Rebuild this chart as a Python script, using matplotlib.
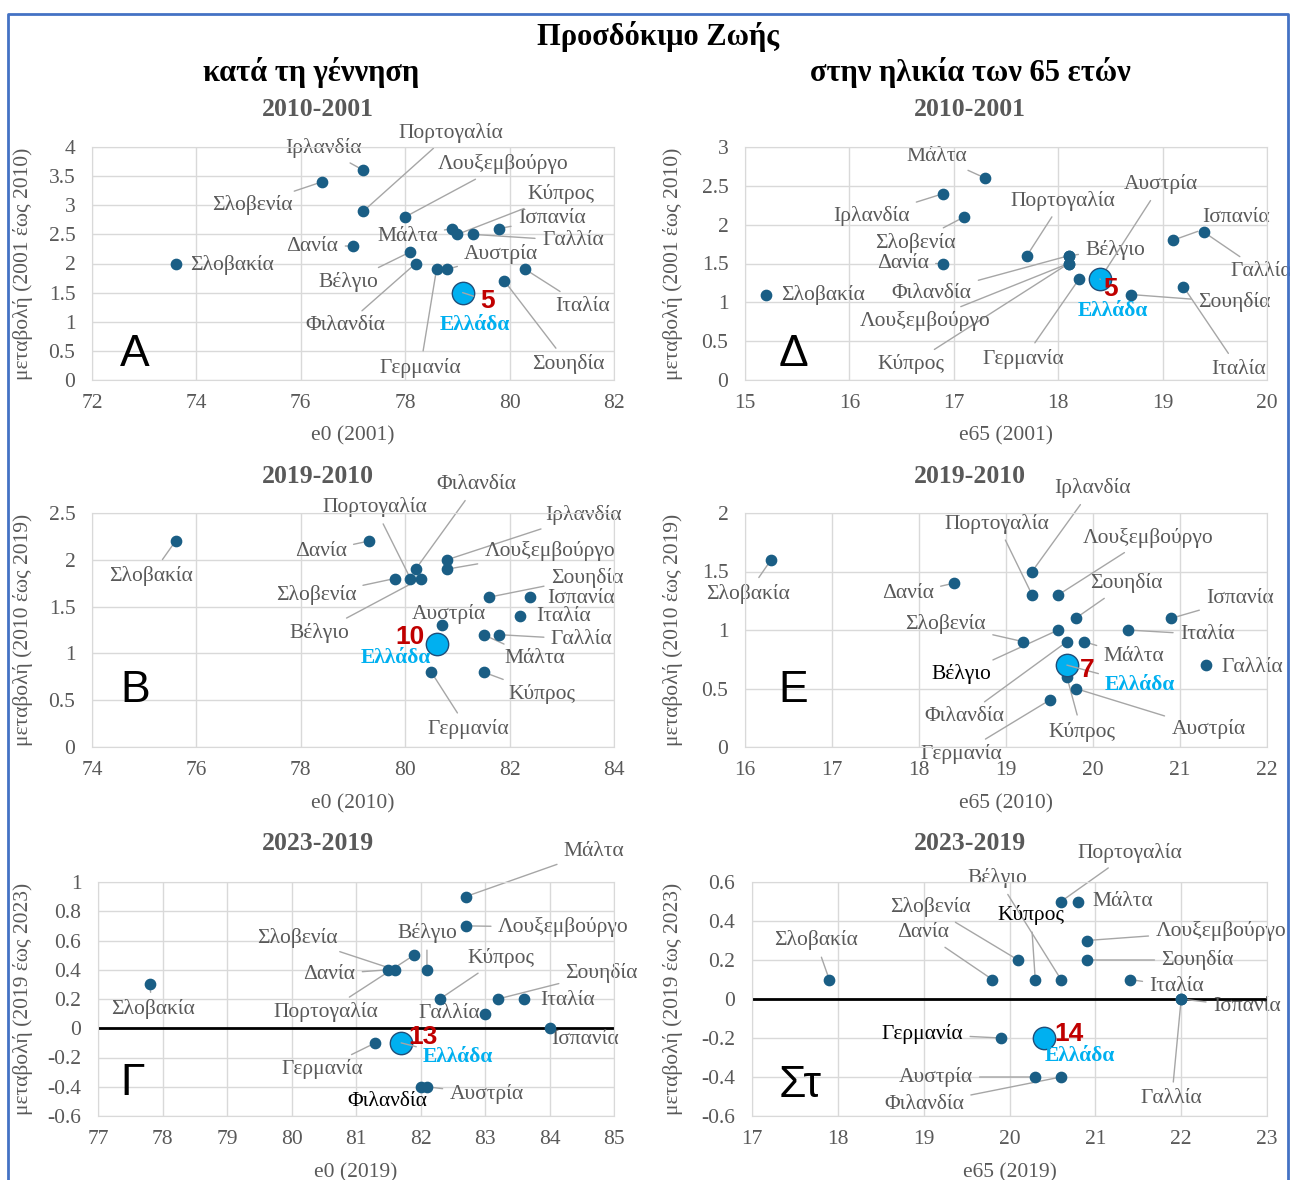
import numpy as np
import matplotlib.pyplot as plt
from matplotlib.lines import Line2D

plt.rcParams['font.family'] = ['Liberation Serif', 'DejaVu Serif']

# ---- data ----
countries = ['Βέλγιο', 'Δανία', 'Γερμανία', 'Ιρλανδία', 'Ισπανία', 'Γαλλία', 'Ιταλία', 'Κύπρος',
             'Λουξεμβούργο', 'Μάλτα', 'Αυστρία', 'Πορτογαλία', 'Σλοβενία', 'Σλοβακία', 'Φιλανδία', 'Σουηδία']

e0_2001 = [78.1, 77.0, 78.6, 77.2, 79.8, 79.3, 80.3, 79.0, 78.0, 78.9, 78.8, 77.2, 76.4, 73.6, 78.2, 79.9]
d0_2001_2010 = [2.2, 2.3, 1.9, 3.6, 2.6, 2.5, 1.9, 2.5, 2.8, 2.6, 1.9, 2.9, 3.4, 2.0, 2.0, 1.7]
e65_2001 = [18.1, 16.9, 18.2, 16.9, 19.1, 19.4, 19.2, 18.1, 18.1, 17.3, 18.4, 17.7, 17.1, 15.2, 18.1, 18.7]
d65_2001_2010 = [1.6, 1.5, 1.3, 2.4, 1.8, 1.9, 1.2, 1.5, 1.5, 2.6, 1.3, 1.6, 2.1, 1.1, 1.6, 1.1]

e0_2010 = [80.3, 79.3, 80.5, 80.8, 82.4, 81.8, 82.2, 81.5, 80.8, 81.5, 80.7, 80.1, 79.8, 75.6, 80.2, 81.6]
d0_2010_2019 = [1.8, 2.2, 0.8, 2.0, 1.6, 1.2, 1.4, 0.8, 1.9, 1.2, 1.3, 1.8, 1.8, 2.2, 1.9, 1.6]
e65_2010 = [19.6, 18.4, 19.5, 19.3, 20.9, 21.3, 20.4, 19.7, 19.6, 19.9, 19.8, 19.3, 19.2, 16.3, 19.7, 19.8]
d65_2010_2019 = [1.0, 1.4, 0.4, 1.5, 1.1, 0.7, 1.0, 0.6, 1.3, 0.9, 0.5, 1.3, 0.9, 1.6, 0.9, 1.1]

e0_2019 = [82.1, 81.5, 81.3, np.nan, 84.0, 83.0, 83.6, 82.3, 82.7, 82.7, 82.1, 81.9, 81.6, 77.8, 82.0, 83.2]
d0_2019_2023 = [0.4, 0.4, -0.1, np.nan, 0.0, 0.1, 0.2, 0.2, 0.7, 0.9, -0.4, 0.5, 0.4, 0.3, -0.4, 0.2]
e65_2019 = [20.6, 19.8, 19.9, np.nan, 22.0, 22.0, 21.4, 20.3, 20.9, 20.8, 20.3, 20.6, 20.1, 17.9, 20.6, 20.9]
d65_2019_2023 = [0.1, 0.1, -0.2, np.nan, 0.0, 0.0, 0.1, 0.1, 0.3, 0.5, -0.4, 0.5, 0.2, 0.1, -0.4, 0.2]

greece_e0 = [79.1, 80.6, 81.7]
greece_d0 = [1.5, 1.1, -0.1]
greece_e65 = [18.4, 19.7, 20.4]
greece_d65 = [1.3, 0.7, -0.2]
greece_rank_e0 = [5, 10, 13]
greece_rank_e65 = [5, 7, 14]

GRAY = '#595959'
DOT = '#1A5E85'
LEAD = '#A6A6A6'

# ---- label placement (text positions in data units, ha, leader line) ----
lab_A = {
    'Πορτογαλία': (77.87, 4.245, 'left', True), 'Ιρλανδία': (76.43, 3.98, 'center', True),
    'Λουξεμβούργο': (78.62, 3.70, 'left', True), 'Κύπρος': (80.34, 3.19, 'left', True),
    'Ισπανία': (80.16, 2.77, 'left', True), 'Γαλλία': (80.62, 2.39, 'left', True),
    'Μάλτα': (78.62, 2.46, 'right', True), 'Σλοβενία': (75.84, 3.0, 'right', True),
    'Δανία': (76.72, 2.3, 'right', True), 'Σλοβακία': (73.88, 1.97, 'left', False),
    'Αυστρία': (79.13, 2.16, 'left', True), 'Βέλγιο': (77.49, 1.68, 'right', True),
    'Ιταλία': (80.88, 1.27, 'left', True), 'Φιλανδία': (77.61, 0.93, 'right', True),
    'Γερμανία': (78.29, 0.21, 'center', True), 'Σουηδία': (80.43, 0.27, 'left', True)}
lab_D = {
    'Μάλτα': (17.13, 2.88, 'right', True), 'Ιρλανδία': (16.58, 2.11, 'right', True),
    'Σλοβενία': (16.63, 1.77, 'center', True), 'Δανία': (16.76, 1.5, 'right', True),
    'Σλοβακία': (15.35, 1.10, 'left', False), 'Πορτογαλία': (18.04, 2.31, 'center', True),
    'Αυστρία': (18.63, 2.52, 'left', True), 'Ισπανία': (19.38, 2.09, 'left', True),
    'Βέλγιο': (18.26, 1.68, 'left', True), 'Γαλλία': (19.65, 1.40, 'left', True),
    'Φιλανδία': (17.17, 1.12, 'right', True), 'Σουηδία': (19.34, 1.0, 'left', True),
    'Λουξεμβούργο': (17.35, 0.76, 'right', True), 'Κύπρος': (16.91, 0.2, 'right', True),
    'Γερμανία': (18.06, 0.27, 'right', True), 'Ιταλία': (19.47, 0.14, 'left', True)}
lab_B = {
    'Σλοβακία': (75.13, 1.83, 'center', True), 'Δανία': (78.88, 2.09, 'right', True),
    'Πορτογαλία': (79.42, 2.56, 'center', True), 'Φιλανδία': (80.6, 2.8, 'left', True),
    'Ιρλανδία': (82.69, 2.48, 'left', True), 'Λουξεμβούργο': (81.52, 2.09, 'left', True),
    'Σουηδία': (82.79, 1.81, 'left', True), 'Σλοβενία': (79.06, 1.62, 'right', True),
    'Ισπανία': (82.72, 1.59, 'left', False), 'Ιταλία': (82.51, 1.39, 'left', False),
    'Αυστρία': (80.84, 1.42, 'center', False), 'Βέλγιο': (78.92, 1.22, 'right', True),
    'Γαλλία': (82.79, 1.15, 'left', True), 'Μάλτα': (81.9, 0.95, 'left', True),
    'Κύπρος': (81.97, 0.57, 'left', True), 'Γερμανία': (81.2, 0.19, 'center', True)}
lab_E = {
    'Σλοβακία': (16.03, 1.31, 'center', True), 'Ιρλανδία': (19.55, 2.21, 'left', True),
    'Πορτογαλία': (18.9, 1.91, 'center', True), 'Λουξεμβούργο': (19.88, 1.79, 'left', True),
    'Δανία': (18.17, 1.31, 'right', True), 'Σουηδία': (20.38, 1.40, 'center', True),
    'Ισπανία': (21.3, 1.27, 'left', True), 'Ιταλία': (21.0, 0.96, 'left', True),
    'Σλοβενία': (18.77, 1.05, 'right', True), 'Μάλτα': (20.12, 0.77, 'left', True),
    'Γαλλία': (21.48, 0.68, 'left', False), 'Βέλγιο': (18.83, 0.62, 'right', True, 'black'),
    'Φιλανδία': (18.98, 0.26, 'right', True), 'Κύπρος': (19.87, 0.13, 'center', True),
    'Αυστρία': (20.9, 0.15, 'left', True), 'Γερμανία': (18.95, -0.06, 'right', True)}
lab_G = {
    'Μάλτα': (84.22, 1.21, 'left', True), 'Λουξεμβούργο': (83.2, 0.69, 'left', True),
    'Σλοβενία': (80.71, 0.62, 'right', True), 'Βέλγιο': (82.1, 0.65, 'center', True),
    'Κύπρος': (82.72, 0.48, 'left', True), 'Σουηδία': (84.25, 0.38, 'left', True),
    'Δανία': (80.99, 0.37, 'right', True), 'Σλοβακία': (77.85, 0.13, 'center', True),
    'Πορτογαλία': (81.35, 0.11, 'right', True), 'Ιταλία': (83.85, 0.19, 'left', False),
    'Γαλλία': (82.45, 0.10, 'center', False), 'Ισπανία': (84.02, -0.08, 'left', False),
    'Γερμανία': (80.47, -0.28, 'center', True), 'Αυστρία': (82.45, -0.45, 'left', True),
    'Φιλανδία': (81.48, -0.50, 'center', False, 'black')}
lab_S = {
    'Πορτογαλία': (20.79, 0.75, 'left', True), 'Βέλγιο': (20.21, 0.62, 'right', True),
    'Σλοβενία': (19.55, 0.47, 'right', True), 'Κύπρος': (20.25, 0.43, 'center', True, 'black'),
    'Μάλτα': (20.97, 0.50, 'left', False), 'Λουξεμβούργο': (21.7, 0.35, 'left', True),
    'Δανία': (19.3, 0.34, 'right', True), 'Σλοβακία': (17.74, 0.30, 'center', True),
    'Σουηδία': (21.77, 0.20, 'left', True), 'Ιταλία': (21.63, 0.065, 'left', True),
    'Ισπανία': (22.37, -0.04, 'left', True), 'Γαλλία': (21.89, -0.51, 'center', True),
    'Γερμανία': (19.46, -0.18, 'right', True, 'black'), 'Αυστρία': (19.57, -0.40, 'right', True),
    'Φιλανδία': (19.47, -0.54, 'right', True)}

W, H = 1290, 1180
fig = plt.figure(figsize=(W / 100, H / 100), dpi=100)


def box(x0, y0, x1, y1):
    return [x0 / W, 1 - y1 / H, (x1 - x0) / W, (y1 - y0) / H]


panels = [
    dict(pos=box(92, 147, 614, 380), x=e0_2001, y=d0_2001_2010, g=0, gx=greece_e0, gy=greece_d0,
         rank=greece_rank_e0, xlim=(72, 82), xt=np.arange(72, 83, 2), ylim=(0, 4), yt=np.arange(0, 4.01, 0.5),
         xlabel='e0 (2001)', ylabel='μεταβολή (2001 έως 2010)', letter='Α', lpos=(0.082, 0.11),
         labels=lab_A, glab=(79.33, 0.94, 'center'), grank=(79.58, 1.36), glead='rank', zero=False, ylx=-0.113),
    dict(pos=box(745, 147, 1267, 380), x=e65_2001, y=d65_2001_2010, g=0, gx=greece_e65, gy=greece_d65,
         rank=greece_rank_e65, xlim=(15, 20), xt=np.arange(15, 21, 1), ylim=(0, 3), yt=np.arange(0, 3.01, 0.5),
         xlabel='e65 (2001)', ylabel='μεταβολή (2001 έως 2010)', letter='Δ', lpos=(0.092, 0.11),
         labels=lab_D, glab=(18.52, 0.89, 'center'), grank=(18.5, 1.17), glead='rank', zero=False, ylx=-0.119),
    dict(pos=box(92, 513, 614, 747), x=e0_2010, y=d0_2010_2019, g=1, gx=greece_e0, gy=greece_d0,
         rank=greece_rank_e0, xlim=(74, 84), xt=np.arange(74, 85, 2), ylim=(0, 2.5), yt=np.arange(0, 2.51, 0.5),
         xlabel='e0 (2010)', ylabel='μεταβολή (2010 έως 2019)', letter='Β', lpos=(0.082, 0.24),
         labels=lab_B, glab=(79.82, 0.95, 'center'), grank=(80.09, 1.17), glead=None, zero=False, ylx=-0.113),
    dict(pos=box(745, 513, 1267, 747), x=e65_2010, y=d65_2010_2019, g=1, gx=greece_e65, gy=greece_d65,
         rank=greece_rank_e65, xlim=(16, 22), xt=np.arange(16, 23, 1), ylim=(0, 2), yt=np.arange(0, 2.01, 0.5),
         xlabel='e65 (2010)', ylabel='μεταβολή (2010 έως 2019)', letter='Ε', lpos=(0.092, 0.24),
         labels=lab_E, glab=(20.14, 0.53, 'left'), grank=(19.93, 0.66), glead='label', zero=False, ylx=-0.119),
    dict(pos=box(98, 882, 614, 1116), x=e0_2019, y=d0_2019_2023, g=2, gx=greece_e0, gy=greece_d0,
         rank=greece_rank_e0, xlim=(77, 85), xt=np.arange(77, 86, 1), ylim=(-0.6, 1), yt=np.arange(-0.6, 1.01, 0.2),
         xlabel='e0 (2019)', ylabel='μεταβολή (2019 έως 2023)', letter='Γ', lpos=(0.068, 0.14),
         labels=lab_G, glab=(82.04, -0.20, 'left'), grank=(82.04, -0.06), glead='label', zero=True, ylx=-0.126),
    dict(pos=box(752, 882, 1267, 1116), x=e65_2019, y=d65_2019_2023, g=2, gx=greece_e65, gy=greece_d65,
         rank=greece_rank_e65, xlim=(17, 23), xt=np.arange(17, 24, 1), ylim=(-0.6, 0.6), yt=np.arange(-0.6, 0.61, 0.2),
         xlabel='e65 (2019)', ylabel='μεταβολή (2019 έως 2023)', letter='Στ', lpos=(0.093, 0.13),
         labels=lab_S, glab=(20.82, -0.29, 'center'), grank=(20.69, -0.18), glead=None, zero=True, ylx=-0.134),
]

FS = 15.5
for p in panels:
    ax = fig.add_axes(p['pos'])
    ax.set_xlim(*p['xlim'])
    ax.set_ylim(*p['ylim'])
    ax.set_xticks(p['xt'])
    ax.set_yticks(p['yt'])
    ax.set_xticklabels([f'{v:g}' for v in p['xt']])
    ax.set_yticklabels([f'{round(v, 1):g}' for v in p['yt']])
    ax.tick_params(length=0, labelsize=FS, labelcolor=GRAY)
    ax.tick_params(axis='y', pad=12)
    ax.tick_params(axis='x', pad=10)
    ax.grid(True, color='#D9D9D9', lw=1)
    ax.set_axisbelow(True)
    for s in ax.spines.values():
        s.set_color('#D9D9D9')
    ax.set_xlabel(p['xlabel'], fontsize=FS, color=GRAY)
    ax.xaxis.set_label_coords(0.5, -0.2)
    ax.set_ylabel(p['ylabel'], fontsize=FS, color=GRAY)
    ax.yaxis.set_label_coords(p['ylx'], 0.5)
    if p['zero']:
        ax.axhline(0, color='black', lw=2, zorder=1)

    ax.scatter(p['x'], p['y'], s=55, color=DOT, zorder=4)
    for name, xv, yv in zip(countries, p['x'], p['y']):
        if name not in p['labels'] or np.isnan(xv):
            continue
        spec = p['labels'][name]
        tx, ty, ha, lead = spec[:4]
        col = spec[4] if len(spec) > 4 else GRAY
        arrow = dict(arrowstyle='-', color=LEAD, lw=1, shrinkA=3, shrinkB=0) if lead else None
        ax.annotate(name, xy=(xv, yv), xytext=(tx, ty), ha=ha, va='center', fontsize=FS,
                    color=col, arrowprops=arrow, zorder=2, annotation_clip=False)

    g = p['g']
    gxv, gyv = p['gx'][g], p['gy'][g]
    gl = p['glab']
    lead_style = dict(arrowstyle='-', color=LEAD, lw=1, shrinkA=3, shrinkB=0)
    ax.annotate('Ελλάδα', xy=(gxv, gyv), xytext=(gl[0], gl[1]), ha=gl[2], va='center',
                fontsize=FS, fontweight='bold', color='#00B0F0', zorder=6,
                arrowprops=lead_style if p['glead'] == 'label' else None)
    ax.annotate(str(p['rank'][g]), xy=(gxv, gyv), xytext=p['grank'], ha='center', va='center',
                fontsize=19, fontweight='bold', color='#C00000', family='Liberation Sans', zorder=6,
                arrowprops=lead_style if p['glead'] == 'rank' else None)
    ax.scatter([gxv], [gyv], s=260, color='#00B0F0', edgecolor='#1F4E79', lw=1, zorder=5)
    ax.text(p['lpos'][0], p['lpos'][1], p['letter'], transform=ax.transAxes, ha='center', va='center',
            fontsize=32, family='Liberation Sans', color='black')

# ---- titles ----
fig.text(658 / W, 1 - 36 / H, 'Προσδόκιμο Ζωής', ha='center', va='center', fontsize=22, fontweight='bold')
fig.text(311 / W, 1 - 73 / H, 'κατά τη γέννηση', ha='center', va='center', fontsize=22, fontweight='bold')
fig.text(970 / W, 1 - 73 / H, 'στην ηλικία των 65 ετών', ha='center', va='center', fontsize=22, fontweight='bold')
for yy, per in [(109, '2010-2001'), (476, '2019-2010'), (843, '2023-2019')]:
    fig.text(318 / W, 1 - yy / H, per, ha='center', va='center', fontsize=18.5, fontweight='bold', color=GRAY)
    fig.text(970 / W, 1 - yy / H, per, ha='center', va='center', fontsize=18.5, fontweight='bold', color=GRAY)

# outer frame
bx = [8 / W, 8 / W, 1288 / W, 1288 / W]
by = [0, 1 - 14 / H, 1 - 14 / H, 0]
fig.add_artist(Line2D(bx, by, transform=fig.transFigure, color='#4472C4', lw=2))

fig.savefig('out.png', dpi=100)
